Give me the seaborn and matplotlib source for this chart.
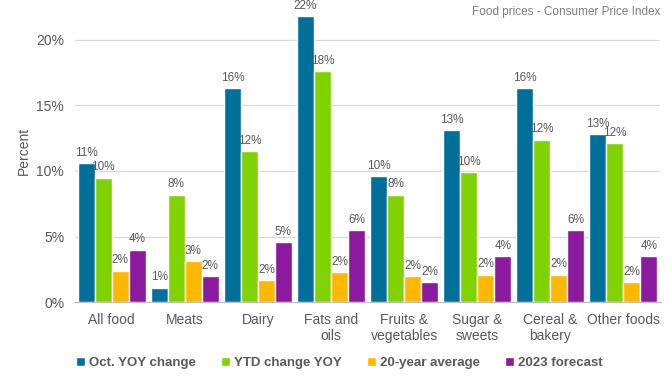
import pandas as pd
import matplotlib.pyplot as plt
import seaborn as sns

# Food prices - Consumer Price Index, percent change
categories = ['All food', 'Meats', 'Dairy', 'Fats and\noils', 'Fruits &\nvegetables',
              'Sugar &\nsweets', 'Cereal &\nbakery', 'Other foods']
series = ['Oct. YOY change', 'YTD change YOY', '20-year average', '2023 forecast']
oct_yoy = [10.6, 1.1, 16.3, 21.8, 9.6, 13.1, 16.3, 12.8]
ytd_yoy = [9.5, 8.2, 11.5, 17.6, 8.2, 9.9, 12.4, 12.1]
avg_20yr = [2.4, 3.1, 1.7, 2.3, 2.0, 2.1, 2.1, 1.5]
forecast_2023 = [4.0, 2.0, 4.6, 5.5, 1.5, 3.5, 5.5, 3.5]
colors = ['#00709B', '#80D300', '#FFB800', '#8B1A9E']

rows = []
for name, vals in zip(series, [oct_yoy, ytd_yoy, avg_20yr, forecast_2023]):
    for cat, v in zip(categories, vals):
        rows.append({'category': cat, 'series': name, 'value': v})
df = pd.DataFrame(rows)

sns.set_style('white')
plt.rcParams['font.family'] = ['Liberation Sans', 'DejaVu Sans']
gray = '#595959'

fig = plt.figure(figsize=(6.72, 3.84), dpi=100)
ax = fig.add_axes([0.112, 0.2135, 0.870, 0.7865])

sns.barplot(data=df, x='category', y='value', hue='series', order=categories,
            hue_order=series, palette=colors, width=0.93, gap=0, saturation=1,
            ax=ax, legend=True)

for cont in ax.containers:
    ax.bar_label(cont, labels=[f'{v:.0f}%' for v in cont.datavalues],
                 padding=3, fontsize=8.5, color=gray)

ax.set_ylim(0, 23.05)
ax.set_xlim(-0.5, len(categories) - 0.5)
ax.set_yticks([0, 5, 10, 15, 20])
ax.set_yticklabels(['0%', '5%', '10%', '15%', '20%'])
ax.yaxis.grid(True, color='#D9D9D9', linewidth=0.9)
ax.set_axisbelow(True)
for s in ['top', 'right', 'left']:
    ax.spines[s].set_visible(False)
ax.spines['bottom'].set_color('#BFBFBF')
ax.tick_params(axis='both', length=0, labelsize=10, colors=gray, pad=8)
ax.set_xlabel('')
ax.set_ylabel('Percent', fontsize=10, color=gray, labelpad=4)

leg = ax.legend(loc='center', ncol=4, frameon=False, handlelength=0.7, handleheight=0.7,
                handletextpad=0.3, columnspacing=1.9, fontsize=9.5)
for t in leg.get_texts():
    t.set_fontweight('bold')
    t.set_color(gray)
leg.set_bbox_to_anchor((0.505, 0.055), transform=fig.transFigure)

fig.text(0.982, 0.968, 'Food prices - Consumer Price Index', ha='right', va='center',
         fontsize=8.5, color='#7F7F7F')

fig.savefig('out.png', dpi=100)
